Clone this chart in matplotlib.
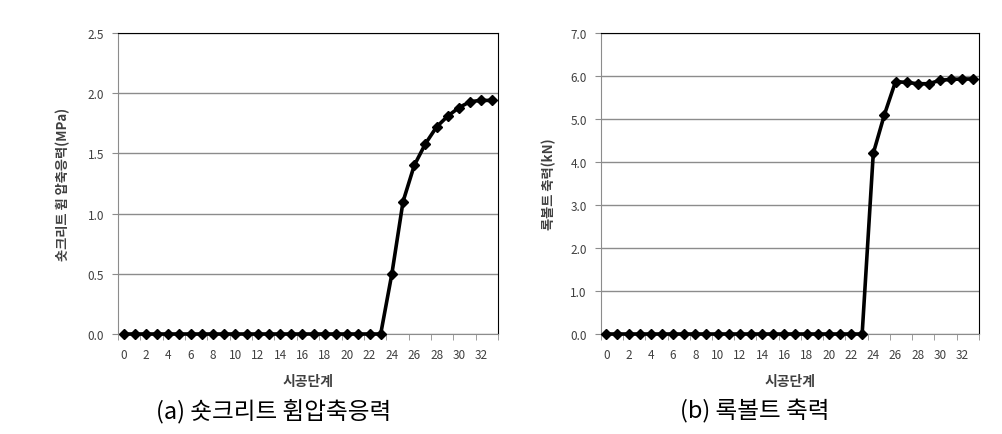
import matplotlib
matplotlib.use("Agg")
import matplotlib.pyplot as plt
from matplotlib.ticker import MultipleLocator, FixedLocator

plt.rcParams["font.family"] = ["Noto Sans CJK KR", "DejaVu Sans"]

# 시공단계 0..33
stages = list(range(34))
shotcrete = [0.0] * 24 + [0.5, 1.1, 1.4, 1.58, 1.72, 1.81, 1.88, 1.93, 1.94, 1.94]
rockbolt = [0.0] * 24 + [4.2, 5.1, 5.87, 5.85, 5.82, 5.82, 5.9, 5.92, 5.93, 5.93]
xtick_labels = list(range(0, 33, 2))

GRID = "#8c8c8c"
TXT = "#404040"

fig = plt.figure(figsize=(10.03, 4.35), dpi=100)
fig.patch.set_facecolor("white")

panels = [
    dict(rect=[0.1176, 0.2299, 0.379, 0.692], y=shotcrete, ymax=2.5, ystep=0.5,
         ylabel="숏크리트 휨 압축응력(MPa)", caption="(a) 숏크리트 휨압축응력",
         cap_x=0.273, ylab_x=0.063),
    dict(rect=[0.599, 0.2299, 0.377, 0.692], y=rockbolt, ymax=7.0, ystep=1.0,
         ylabel="록볼트 축력(kN)", caption="(b) 록볼트 축력",
         cap_x=0.752, ylab_x=0.547),
]

for p in panels:
    ax = fig.add_axes(p["rect"])
    ax.plot(stages, p["y"], color="black", lw=2.6, marker="D", ms=5.5,
            markerfacecolor="black", markeredgecolor="black", zorder=3,
            clip_on=False)
    ax.set_xlim(-0.5, 33.5)
    ax.set_ylim(0, p["ymax"])
    ax.yaxis.set_major_locator(MultipleLocator(p["ystep"]))
    ax.yaxis.set_major_formatter(plt.FuncFormatter(lambda v, _: f"{v:.1f}"))
    ax.grid(axis="y", color=GRID, lw=1.0)
    ax.set_axisbelow(True)

    # labels under categories, tick marks on category boundaries
    ax.xaxis.set_major_locator(FixedLocator(xtick_labels))
    ax.set_xticklabels([str(v) for v in xtick_labels])
    ax.xaxis.set_minor_locator(FixedLocator([v - 0.5 for v in range(0, 35, 2)]))
    ax.tick_params(axis="x", which="major", length=0, pad=10,
                   labelsize=8.5, labelcolor=TXT)
    ax.tick_params(axis="x", which="minor", length=4, color=GRID)
    ax.tick_params(axis="y", length=4, color=GRID, labelsize=8.5,
                   labelcolor=TXT, pad=6)

    for side in ("left", "bottom"):
        ax.spines[side].set_color(GRID)
    for side in ("top", "right"):
        ax.spines[side].set_color("black")

    x0, y0, w, h = p["rect"]
    fig.text(x0 + w / 2, 0.123, "시공단계", ha="center", va="center",
             fontsize=10, fontweight="bold", color=TXT)
    fig.text(p["ylab_x"], y0 + h / 2, p["ylabel"], rotation=90,
             ha="center", va="center", fontsize=9.5, fontweight="bold",
             color=TXT)
    fig.text(p["cap_x"], 0.055, p["caption"], ha="center", va="center",
             fontsize=17, color="black")

fig.savefig("out.png", dpi=100, facecolor="white")
